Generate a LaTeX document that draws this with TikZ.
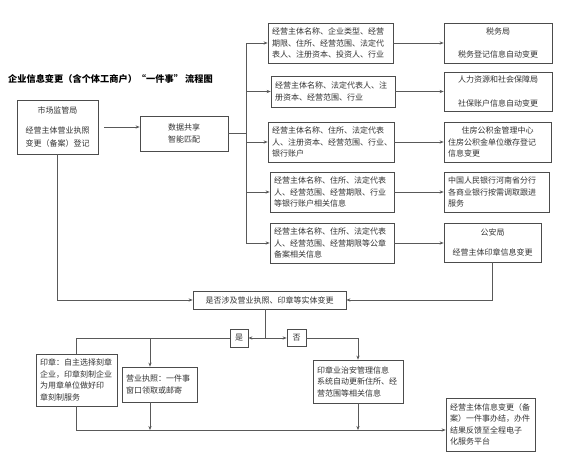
\documentclass[tikz,border=0pt]{standalone}
\usepackage{fontspec}
\setmainfont{Noto Sans CJK SC}
\usetikzlibrary{arrows.meta}
\begin{document}
\begin{tikzpicture}[x=1pt,y=-1pt,
  box/.style={draw=black!70, line width=0.7pt, inner xsep=4pt, inner ysep=2pt,
    font=\fontsize{8}{11.5}\selectfont, text=black!80},
  ln/.style={draw=black!65, line width=0.7pt},
  ar/.style={ln, -{Stealth[length=4pt,width=3.2pt]}}]
\useasboundingbox (0,0) rectangle (565,461);
\fill[white] (0,0) rectangle (565,461);

\node[font=\fontsize{9.2}{11}\selectfont\bfseries, anchor=west, inner sep=0pt] (title) at (8,79)
  {企业信息变更（含个体工商户）“一件事” 流程图};

\node[box, align=center, text width=73pt, minimum height=54pt] (market) at (57.5,127)
  {市场监管局\\[8pt]经营主体营业执照\\[2pt]变更（备案）登记};
\node[box, align=center, text width=80pt, minimum height=35pt] (data) at (184,133.5)
  {数据共享\\智能匹配};

\node[box, align=left, text width=117pt, minimum height=40pt] (I1) at (330.5,43)
  {经营主体名称、企业类型、经营\\期限、住所、经营范围、法定代\\表人、注册资本、投资人、行业};
\node[box, align=left, text width=116pt, minimum height=31pt] (I2) at (333,91.5)
  {经营主体名称、法定代表人、注\\册资本、经营范围、行业};
\node[box, align=left, text width=118pt, minimum height=40pt] (I3) at (331,142)
  {经营主体名称、住所、法定代表\\人、注册资本、经营范围、行业、\\银行账户};
\node[box, align=left, text width=116pt, minimum height=40pt] (I4) at (332,192)
  {经营主体名称、住所、法定代表\\人、经营范围、经营期限、行业\\等银行账户相关信息};
\node[box, align=left, text width=116pt, minimum height=40pt] (I5) at (332,243)
  {经营主体名称、住所、法定代表\\人、经营范围、经营期限等公章\\备案相关信息};

\node[box, align=center, text width=100pt, minimum height=40pt] (R1) at (498,43)
  {税务局\\[12pt]税务登记信息自动变更};
\node[box, align=center, text width=100pt, minimum height=39pt] (R2) at (498,91.5)
  {人力资源和社会保障局\\[12pt]社保账户信息自动变更};
\node[box, align=left, text width=99pt, minimum height=40pt] (R3) at (497.5,142)
  {\makebox[99pt]{住房公积金管理中心}\\住房公积金单位缴存登记\\信息变更};
\node[box, align=left, text width=97pt, minimum height=40pt] (R4) at (496.5,192)
  {中国人民银行河南省分行\\各商业银行按需调取跟进\\服务};
\node[box, align=center, text width=89pt, minimum height=39pt] (R5) at (492.5,242.5)
  {公安局\\[9pt]经营主体印章信息变更};

\node[box, align=center, text width=145pt, minimum height=18pt] (dec) at (269.5,300)
  {是否涉及营业执照、印章等实体变更};
\node[box, inner sep=1pt, minimum width=18pt, minimum height=18pt] (yes) at (239,338) {是};
\node[box, inner sep=1pt, minimum width=19pt, minimum height=17pt] (no) at (296.5,338) {否};

\node[box, align=left, text width=73pt, minimum height=52pt] (seal) at (76.5,380)
  {印章：自主选择刻章\\企业，印章刻制企业\\为用章单位做好印\\章刻制服务};
\node[box, align=left, text width=67pt, minimum height=35pt] (license) at (159.5,384.5)
  {营业执照：一件事\\窗口领取或邮寄};
\node[box, align=left, text width=82pt, minimum height=43pt] (police) at (358,381.5)
  {印章业治安管理信息\\系统自动更新住所、经\\营范围等相关信息};
\node[box, align=left, text width=81pt, minimum height=53pt] (final) at (490.5,424.5)
  {经营主体信息变更（备\\案）一件事办结，办件\\结果反馈至全程电子\\化服务平台};

% connectors
\draw[ar] (market.east) ++(6,0) coordinate (mstart) -- (mstart -| data.west);
\coordinate (trunk) at (246,132);
\draw[ln] (data.east) -- (data.east -| trunk);
\draw[ln] (trunk |- I1.west) -- (trunk |- I5.west);
\foreach \i in {1,...,5} {
  \draw[ar] (trunk |- I\i.west) -- (I\i.west);
  \draw[ar] (I\i.east) -- (I\i.east -| R\i.west);
}
\draw[ar] (R5.south) |- (dec.east);
\draw[ar] (market.south) |- (dec.west);

\coordinate (split) at (265,338);
\draw[ln] (split |- dec.south) -- (split);
\draw[ar] (split) -- (yes.east);
\draw[ar] (split) -- (no.west);
\draw[ln] (yes.west) -| (seal.north);
\coordinate (lic) at (150,338);
\draw[ar] (lic) -- (lic |- license.north);
\draw[ar] (no.east) -| (police.north);

\coordinate (bot) at (77,430);
\draw[ar] (seal.south) |- (final.west |- bot);
\draw[ar] (lic |- license.south) -- (lic |- bot);
\draw[ar] (police.south) -- (police.south |- bot);
\end{tikzpicture}
\end{document}
